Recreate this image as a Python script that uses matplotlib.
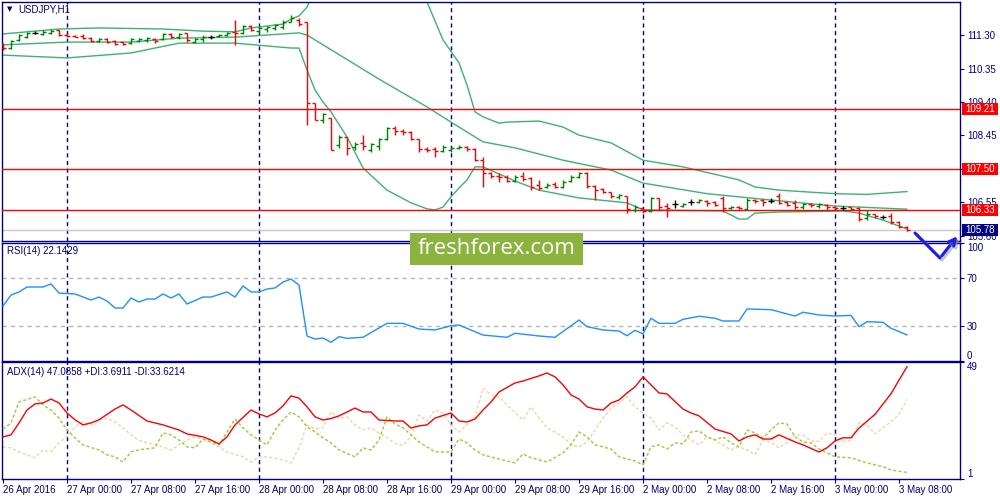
import matplotlib
matplotlib.use("Agg")
import matplotlib.pyplot as plt
import matplotlib.transforms as mtransforms
import matplotlib.patheffects as pe
from matplotlib.collections import LineCollection
from matplotlib.patches import Rectangle, FancyArrowPatch
from matplotlib.lines import Line2D
import numpy as np

plt.rcParams['font.family'] = ['Liberation Sans', 'DejaVu Sans']

# ---------------- data ----------------
opens = [111.04,110.93,111.16,111.24,111.36,111.33,111.36,111.44,111.30,111.27,
         111.27,111.21,111.13,111.19,111.13,111.10,111.07,111.13,111.16,111.19,
         111.19,111.33,111.24,111.36,111.10,111.19,111.24,111.27,111.30,111.39,
         111.36,111.56,111.41,111.47,111.50,111.53,111.67,111.73,111.67,109.37,
         108.89,108.95,108.18,108.41,108.12,108.24,108.04,108.15,108.35,108.66,
         108.58,108.55,108.35,108.07,108.07,108.01,108.04,108.10,108.12,108.07,
         107.75,107.39,107.30,107.27,107.16,107.30,107.24,107.05,106.99,107.07,
         106.99,107.16,107.27,107.39,107.02,106.93,106.85,106.71,106.73,106.34,
         106.39,106.31,106.68,106.45,106.51,106.45,106.56,106.56,106.59,106.56,
         106.68,106.39,106.42,106.37,106.62,106.62,106.59,106.73,106.56,106.54,
         106.42,106.51,106.45,106.48,106.42,106.39,106.42,106.39,106.11,106.22,
         106.14,106.17,106.00,105.85]
highs = [111.07,111.16,111.33,111.39,111.41,111.44,111.47,111.44,111.36,111.30,
         111.33,111.24,111.21,111.21,111.16,111.10,111.21,111.21,111.24,111.21,
         111.36,111.36,111.36,111.36,111.21,111.30,111.30,111.33,111.39,111.73,
         111.58,111.58,111.56,111.56,111.61,111.73,111.87,111.78,111.67,109.37,
         109.09,108.95,108.46,108.41,108.27,108.46,108.24,108.38,108.69,108.72,
         108.63,108.58,108.35,108.12,108.12,108.18,108.12,108.18,108.15,108.10,
         107.84,107.41,107.39,107.33,107.33,107.41,107.27,107.19,107.10,107.13,
         107.19,107.33,107.41,107.41,107.05,106.96,106.85,106.79,106.73,106.48,
         106.39,106.71,106.68,106.54,106.62,106.54,106.65,106.65,106.62,106.59,
         106.73,106.45,106.45,106.68,106.65,106.65,106.68,106.82,106.59,106.62,
         106.54,106.54,106.54,106.51,106.45,106.45,106.42,106.42,106.34,106.22,
         106.20,106.25,106.03,105.88]
lows = [110.87,110.90,111.13,111.21,111.33,111.30,111.33,111.27,111.24,111.24,
        111.19,111.10,111.10,111.07,111.02,111.02,111.04,111.10,111.10,111.07,
        111.16,111.21,111.19,111.10,111.07,111.10,111.19,111.24,111.27,111.02,
        111.33,111.41,111.36,111.39,111.44,111.47,111.67,111.56,108.75,108.89,
        108.80,108.04,108.10,107.90,108.04,108.04,107.98,108.04,108.32,108.46,
        108.46,108.32,107.98,107.98,107.84,107.98,107.98,108.07,108.01,107.73,
        106.99,107.24,107.13,107.13,107.13,107.16,106.90,106.90,106.96,106.96,
        106.96,107.13,107.24,106.96,106.62,106.82,106.68,106.65,106.25,106.28,
        106.25,106.28,106.34,106.14,106.39,106.42,106.48,106.54,106.45,106.45,
        106.28,106.37,106.37,106.34,106.54,106.45,106.54,106.51,106.45,106.37,
        106.37,106.42,106.39,106.34,106.37,106.34,106.34,106.03,106.05,106.11,
        106.08,105.94,105.83,105.74]
closes = [110.93,111.13,111.30,111.36,111.36,111.39,111.41,111.30,111.27,111.24,
          111.21,111.13,111.19,111.10,111.04,111.04,111.19,111.19,111.21,111.13,
          111.33,111.24,111.33,111.16,111.19,111.24,111.24,111.30,111.36,111.36,
          111.56,111.44,111.50,111.53,111.58,111.67,111.78,111.61,109.37,108.89,
          109.06,108.04,108.41,108.10,108.21,108.15,108.21,108.35,108.66,108.58,
          108.55,108.35,108.07,108.04,108.01,108.12,108.10,108.12,108.07,107.75,
          107.39,107.30,107.27,107.16,107.27,107.22,106.99,106.96,107.05,106.99,
          107.13,107.27,107.39,107.02,106.90,106.85,106.73,106.76,106.37,106.42,
          106.31,106.68,106.42,106.39,106.51,106.51,106.56,106.62,106.54,106.48,
          106.39,106.42,106.39,106.62,106.59,106.56,106.59,106.54,106.48,106.42,
          106.51,106.48,106.51,106.42,106.39,106.39,106.37,106.08,106.22,106.17,
          106.14,106.00,105.85,105.78]

bb_up_idx = [0, 7, 12, 20, 25, 29, 31, 35, 36, 37, 38, 39, 40, 45, 50, 52, 53, 55, 57, 58,
             59, 60, 62, 63, 67, 70, 72, 76, 80, 85, 92, 94, 97, 104, 108, 113]
bb_up_val = [111.33, 111.47, 111.50, 111.47, 111.41, 111.39, 111.50, 111.61, 111.75, 111.84,
             112.09, 112.60, 112.90, 113.20, 113.10, 112.80, 112.24, 111.16, 110.51, 109.88,
             109.12, 108.98, 108.80, 108.83, 108.86, 108.69, 108.46, 108.24, 107.75, 107.56,
             107.19, 106.99, 106.90, 106.80, 106.78, 106.86]
bb_mid_idx = [0, 8, 16, 22, 29, 37, 38, 47, 53, 56, 60, 64, 70, 76, 80, 88, 96, 104, 113]
bb_mid_val = [111.02, 111.10, 111.10, 111.21, 111.24, 111.36, 111.30, 110.05, 109.26, 108.83,
              108.27, 108.10, 107.75, 107.47, 107.10, 106.80, 106.62, 106.45, 106.36]
bb_lo_idx = [0, 8, 16, 22, 29, 36, 37, 38, 39, 40, 41, 43, 45, 48, 51, 53, 54, 55, 56, 57,
             58, 59, 60, 64, 67, 72, 78, 80, 90, 92, 93, 94, 97, 105, 107, 110, 113]
bb_lo_val = [110.73, 110.65, 110.79, 111.07, 111.07, 110.93, 110.93, 110.31, 109.74, 109.40,
             109.12, 108.41, 107.53, 106.90, 106.54, 106.37, 106.34, 106.42, 106.71, 106.96,
             107.19, 107.56, 107.56, 107.16, 106.90, 106.68, 106.54, 106.34, 106.31, 106.08,
             106.08, 106.25, 106.28, 106.31, 106.25, 106.05, 105.80]

level_lines = [109.21, 107.50, 106.33]
bid_price = 105.78
price_ticks = [111.30, 110.35, 109.40, 108.45, 107.50, 106.55, 105.60]

rsi_idx = [0, 1, 2, 3, 5, 6, 7, 9, 11, 12, 13, 14, 15, 16, 17, 18, 19, 20, 21, 22,
           23, 25, 26, 28, 29, 30, 31, 32, 33, 34, 35, 36, 37, 38, 39, 40, 41, 42, 43, 45,
           48, 50, 52, 54, 56, 57, 60, 63, 64, 67, 69, 72, 73, 75, 77, 78, 79, 80, 81, 82,
           84, 85, 87, 89, 90, 92, 93, 96, 99, 100, 102, 104, 106, 107, 108, 110, 111, 113]
rsi_val = [46.6, 55.9, 58.5, 62.7, 62.7, 65.3, 57.6, 56.8, 51.7, 54.2,
           50.8, 44.9, 44.9, 53.4, 50.0, 52.5, 52.5, 56.8, 53.4, 56.8,
           48.3, 54.2, 54.2, 58.5, 54.2, 63.6, 58.5, 58.5, 61.0, 61.9,
           66.9, 69.5, 64.4, 21.2, 18.6, 19.5, 15.8, 20.6, 19.2, 20.1,
           31.9, 31.9, 27.1, 26.3, 29.9, 30.5, 22.0, 20.1, 23.5, 21.2,
           20.1, 34.7, 29.1, 26.3, 25.4, 21.4, 26.0, 23.1, 36.2, 31.9,
           31.9, 35.3, 37.9, 36.2, 33.9, 33.9, 44.1, 43.5, 38.1, 41.3,
           39.0, 38.1, 38.7, 29.1, 33.3, 32.8, 27.7, 22.14]

adx_idx = [0, 1, 2, 3, 4, 5, 6, 7, 8, 9, 10, 11, 12, 14, 15, 16, 18, 19, 20, 22,
           23, 25, 26, 27, 28, 29, 31, 32, 33, 34, 35, 36, 37, 38, 39, 40, 41, 42, 44, 45,
           46, 47, 49, 50, 51, 52, 53, 54, 56, 57, 58, 59, 60, 61, 62, 64, 65, 67, 68, 69,
           70, 71, 72, 73, 74, 75, 76, 77, 78, 79, 80, 82, 83, 85, 86, 87, 89, 91, 92, 93,
           94, 95, 96, 97, 99, 100, 102, 103, 104, 105, 106, 107, 109, 111, 113]
adx_val = [18.3, 19.1, 24.0, 29.3, 31.8, 32.2, 33.8, 32.2, 28.1, 25.3,
           23.2, 24.0, 25.3, 29.7, 31.4, 29.3, 24.8, 24.0, 23.2, 21.1,
           19.5, 18.3, 17.0, 15.4, 18.3, 23.2, 29.3, 27.7, 26.5, 28.1,
           31.0, 35.1, 34.2, 30.6, 26.5, 25.2, 25.8, 26.9, 30.1, 28.5,
           28.5, 25.2, 24.8, 24.8, 21.9, 22.8, 23.2, 26.0, 28.1, 24.8,
           24.4, 25.6, 29.3, 32.6, 36.7, 40.4, 41.2, 43.3, 44.5, 42.9,
           39.6, 35.5, 33.8, 30.6, 29.7, 29.3, 32.2, 33.4, 36.3, 38.8,
           42.9, 36.3, 35.9, 29.7, 28.1, 26.9, 21.5, 19.5, 16.6, 18.3,
           19.1, 17.4, 17.4, 19.1, 16.2, 15.0, 12.1, 13.8, 16.6, 17.9,
           17.9, 21.9, 27.5, 36.0, 47.09]
pdi_idx = [0, 1, 2, 4, 5, 6, 7, 8, 9, 10, 12, 13, 14, 15, 16, 17, 19, 20, 21, 22,
           23, 24, 25, 26, 27, 28, 29, 30, 31, 32, 33, 34, 35, 36, 37, 38, 39, 40, 41, 42,
           44, 45, 46, 47, 48, 49, 50, 51, 52, 53, 54, 56, 57, 58, 59, 60, 62, 64, 65, 66,
           68, 70, 71, 72, 73, 74, 76, 77, 79, 80, 81, 82, 83, 84, 85, 86, 87, 88, 89, 90,
           91, 92, 93, 94, 95, 96, 97, 98, 99, 100, 101, 102, 103, 104, 106, 108, 110, 111, 113]
pdi_val = [21.5, 24.0, 32.6, 34.7, 31.4, 29.3, 26.0, 21.1, 17.9, 15.0,
           12.9, 10.9, 10.1, 8.0, 12.1, 13.0, 13.8, 19.9, 19.1, 17.0,
           14.2, 13.8, 17.4, 16.2, 15.0, 20.3, 25.6, 22.0, 19.1, 17.0,
           15.0, 21.1, 25.2, 28.5, 26.5, 22.4, 20.3, 17.9, 15.8, 12.9,
           10.1, 13.8, 12.9, 17.0, 26.5, 23.5, 22.0, 19.1, 16.2, 14.2,
           12.1, 12.1, 17.4, 15.8, 12.9, 10.9, 9.2, 7.6, 11.3, 9.7,
           8.0, 11.7, 15.0, 20.3, 18.3, 15.0, 13.3, 10.1, 8.4, 6.8,
           14.2, 15.0, 13.3, 15.8, 15.4, 20.3, 20.7, 18.3, 17.0, 18.3,
           15.8, 14.2, 21.1, 19.9, 17.9, 21.1, 24.0, 23.6, 18.3, 16.2,
           15.8, 13.3, 11.7, 10.1, 9.7, 7.6, 6.0, 4.7, 3.69]
mdi_idx = [0, 1, 2, 3, 4, 5, 6, 7, 8, 9, 10, 11, 12, 13, 14, 15, 16, 17, 19, 20,
           21, 23, 24, 25, 27, 28, 30, 31, 32, 33, 35, 36, 37, 38, 39, 40, 41, 42, 43, 44,
           45, 46, 47, 48, 49, 50, 51, 52, 53, 54, 55, 56, 57, 58, 59, 60, 61, 62, 63, 65,
           66, 67, 68, 70, 71, 72, 73, 74, 75, 76, 77, 78, 79, 80, 81, 82, 83, 84, 85, 86,
           87, 88, 89, 90, 91, 92, 93, 94, 95, 96, 97, 98, 99, 100, 101, 102, 103, 104, 105, 106,
           107, 108, 109, 110, 111, 112, 113]
mdi_val = [14.2, 13.8, 12.1, 10.9, 9.7, 12.9, 12.1, 15.8, 18.3, 22.4,
           24.4, 23.0, 25.2, 26.0, 24.4, 22.0, 19.1, 16.8, 15.0, 14.2,
           12.9, 17.0, 18.3, 17.4, 14.2, 12.1, 10.1, 8.0, 10.1, 10.1,
           8.8, 7.6, 13.8, 23.2, 21.5, 22.0, 28.5, 26.0, 26.5, 23.2,
           21.1, 22.0, 19.8, 18.0, 15.5, 14.8, 18.3, 27.3, 24.8, 29.3,
           28.1, 23.2, 20.3, 23.2, 26.5, 38.3, 35.5, 34.7, 31.4, 25.2,
           30.6, 26.0, 22.0, 18.3, 15.0, 14.2, 16.2, 21.1, 26.0, 30.1,
           32.2, 34.7, 30.6, 28.1, 26.0, 21.1, 24.0, 22.4, 19.1, 17.0,
           15.0, 18.3, 17.0, 15.0, 12.9, 14.2, 12.9, 10.9, 17.0, 16.0,
           13.8, 15.8, 19.1, 19.1, 16.5, 16.5, 19.9, 19.1, 16.5, 16.8,
           24.0, 23.2, 19.5, 22.0, 24.5, 27.5, 33.62]

time_tick_idx = [0, 8, 16, 24, 32, 40, 48, 56, 64, 72, 80, 88, 96, 104, 112]
time_tick_lbl = ['26 Apr 2016', '27 Apr 00:00', '27 Apr 08:00', '27 Apr 16:00',
                 '28 Apr 00:00', '28 Apr 08:00', '28 Apr 16:00', '29 Apr 00:00',
                 '29 Apr 08:00', '29 Apr 16:00', '2 May 00:00', '2 May 08:00',
                 '2 May 16:00', '3 May 00:00', '3 May 08:00']
day_sep_idx = [8, 32, 56, 80, 104]

# ---------------- style ----------------
NAVY = '#000080'
UP, DN, DOJI = '#008000', '#FF0000', '#000000'
BB = '#3CB371'
W, H = 1000, 500
FS = 7

fig = plt.figure(figsize=(10, 5), dpi=100)
fig.patch.set_facecolor('white')


def rect(x0, y0, x1, y1):
    return [x0 / W, 1 - y1 / H, (x1 - x0) / W, (y1 - y0) / H]


ax1 = fig.add_axes(rect(2, 2, 960, 241))
ax2 = fig.add_axes(rect(2, 243, 960, 361))
ax3 = fig.add_axes(rect(2, 362, 960, 479))

for ax in (ax1, ax2, ax3):
    ax.set_xlim(-0.125, 119.625)
    for s in ax.spines.values():
        s.set_color(NAVY)
        s.set_linewidth(1.0)
    ax.yaxis.tick_right()
    ax.tick_params(axis='y', colors=NAVY, labelcolor=NAVY, length=3, width=0.8,
                   labelsize=FS, pad=2)
    ax.tick_params(axis='x', length=0, labelbottom=False)
    for d in day_sep_idx:
        ax.axvline(d, color=NAVY, lw=1.0, ls=(0, (3, 2.5)), zorder=1)

# ---- main price panel ----
ax1.set_ylim(105.458, 112.236)
ax1.set_yticks(price_ticks)
ax1.set_yticklabels([f'{v:.2f}' for v in price_ticks])

ax1.plot(bb_up_idx, bb_up_val, color=BB, lw=1.0, zorder=2)
ax1.plot(bb_mid_idx, bb_mid_val, color=BB, lw=1.0, zorder=2)
ax1.plot(bb_lo_idx, bb_lo_val, color=BB, lw=1.0, zorder=2)

for lv in level_lines:
    ax1.axhline(lv, color='red', lw=1.0, zorder=3)
ax1.axhline(bid_price, color='#C8C8C8', lw=1.0, zorder=2)

tk = 0.38
segs, cols = [], []
for i in range(len(opens)):
    o, h, l, c = opens[i], highs[i], lows[i], closes[i]
    col = UP if c > o else (DN if c < o else DOJI)
    segs += [[(i, l), (i, h)], [(i - tk, o), (i, o)], [(i, c), (i + tk, c)]]
    cols += [col] * 3
ax1.add_collection(LineCollection(segs, colors=cols, linewidths=1.0, zorder=4))

blend = mtransforms.blended_transform_factory(fig.transFigure, ax1.transData)
box_h = 0.34
for lv, fc in [(109.21, 'red'), (107.50, 'red'), (106.33, 'red'), (bid_price, NAVY)]:
    ax1.add_patch(Rectangle((962 / W, lv - box_h / 2), 36 / W, box_h, transform=blend,
                            facecolor=fc, edgecolor='none', clip_on=False, zorder=10))
    ax1.text(980 / W, lv, f'{lv:.2f}', transform=blend, ha='center', va='center',
             color='white', fontsize=FS, clip_on=False, zorder=11)

# ---- RSI panel ----
ax2.set_ylim(0, 100)
ax2.plot(rsi_idx, rsi_val, color='#1E90FF', lw=1.0, zorder=3)
for lv in (70, 30):
    ax2.axhline(lv, color='#B4B4B4', lw=1.0, ls=(0, (3, 3)), zorder=1)
ax2.set_yticks([100, 70, 30, 0])
ax2.set_yticklabels(['100', '70', '30', '0'])
lbls = ax2.get_yticklabels()
lbls[0].set_va('top')
lbls[3].set_va('bottom')

# ---- ADX panel ----
ax3.set_ylim(1, 49)
ax3.plot(mdi_idx, mdi_val, color='#F5D3A0', lw=1.0, ls=(0, (2.2, 1.6)), zorder=2)
ax3.plot(pdi_idx, pdi_val, color='#9ACD32', lw=1.0, ls=(0, (2.2, 1.6)), zorder=3)
ax3.plot(adx_idx, adx_val, color='red', lw=1.0, zorder=4)
ax3.set_yticks([49, 1])
ax3.set_yticklabels(['49', '1'])
lb = ax3.get_yticklabels()
lb[0].set_va('top')
lb[1].set_va('bottom')
ax3.set_xticks(time_tick_idx)
ax3.set_xticklabels(time_tick_lbl)
ax3.tick_params(axis='x', length=3, width=0.8, colors=NAVY, labelcolor=NAVY,
                labelsize=FS, pad=1.5, labelbottom=True)
for t in ax3.get_xticklabels():
    t.set_ha('left')

# ---- titles ----
fig.text(9.5 / W, 1 - 9.5 / H, '\u25BC', fontsize=5, color=NAVY, ha='center', va='center',
         family='DejaVu Sans')
fig.text(18 / W, 1 - 10 / H, 'USDJPY,H1', fontsize=FS, color=NAVY, ha='left', va='center')
fig.text(7 / W, 1 - 251 / H, 'RSI(14) 22.1429', fontsize=FS, color=NAVY, ha='left', va='center')
fig.text(7 / W, 1 - 372 / H, 'ADX(14) 47.0858 +DI:3.6911 -DI:33.6214', fontsize=FS,
         color=NAVY, ha='left', va='center')

# ---- watermark ----
fig.add_artist(Rectangle((410 / W, 1 - 265 / H), 173 / W, 32 / H, transform=fig.transFigure,
                         facecolor='#8CB33E', edgecolor='none', zorder=20))
fig.text(496.5 / W, 1 - 249 / H, 'freshforex.com', family='Open Sans', fontsize=16,
         color='white', ha='center', va='center', zorder=21)

# ---- hand-drawn arrow ----
shadow = [pe.SimpleLineShadow(offset=(1.5, -1.5), shadow_color='gray', alpha=0.45), pe.Normal()]
fig.add_artist(Line2D([915 / W, 940 / W], [1 - 233 / H, 1 - 258 / H], transform=fig.transFigure,
                      color='#1E1EE6', lw=2.2, solid_capstyle='round', zorder=22,
                      path_effects=shadow))
arr = FancyArrowPatch((940 / W, 1 - 258 / H), (959 / W, 1 - 234 / H), transform=fig.transFigure,
                      arrowstyle='->', mutation_scale=12, color='#1E1EE6', lw=2.2, zorder=22,
                      path_effects=shadow)
fig.add_artist(arr)

fig.savefig('out.png', dpi=100)
